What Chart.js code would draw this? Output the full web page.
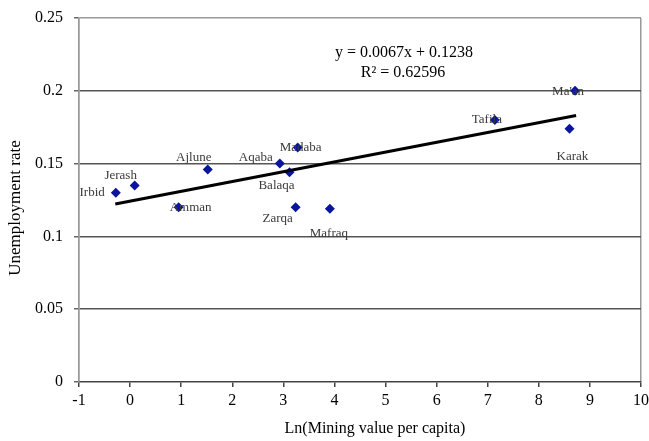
<!DOCTYPE html>
<html>
<head>
<meta charset="utf-8">
<script src="https://cdn.jsdelivr.net/npm/chart.js@4/dist/chart.umd.min.js"></script>
<style>
  html, body { margin: 0; padding: 0; background: #fff; }
  #wrap { width: 649px; height: 441px; }
</style>
</head>
<body>
<div id="wrap"><canvas id="scatterChart"></canvas></div>
<script>
// governorates and values
const names = ['Irbid', 'Jerash', 'Amman', 'Ajlune', 'Aqaba', 'Madaba', 'Balaqa', 'Zarqa', 'Mafraq', 'Tafila', "Ma'an", 'Karak'];
const lnMining = [-0.28, 0.09, 0.95, 1.52, 2.93, 3.28, 3.12, 3.24, 3.91, 7.14, 8.71, 8.60];
const unemployment = [0.130, 0.135, 0.120, 0.146, 0.150, 0.161, 0.144, 0.120, 0.119, 0.180, 0.200, 0.174];

// trend line end points
const trendX = [-0.29, 8.73];
const trendY = [0.1223, 0.183];

const xTicks = [-1, 0, 1, 2, 3, 4, 5, 6, 7, 8, 9, 10];
const yTicks = [0, 0.05, 0.1, 0.15, 0.2, 0.25];
const equation = ['y = 0.0067x + 0.1238', 'R\u00b2 = 0.62596'];
const xTitle = 'Ln(Mining value per capita)';
const yTitle = 'Unemployment rate';

// where each name sits next to its point (pixels)
const labelPos = {
    'Irbid': [-11, 0, 'right'],
    'Jerash': [-14, -10, 'center'],
    'Amman': [12, 0, 'center'],
    'Ajlune': [-14, -12, 'center'],
    'Aqaba': [-7, -6, 'right'],
    'Madaba': [3, 0, 'center'],
    'Balaqa': [-13, 13, 'center'],
    'Zarqa': [-18, 11, 'center'],
    'Mafraq': [-1, 25, 'center'],
    'Tafila': [-8, 0, 'center'],
    "Ma'an": [-7, 1, 'center'],
    'Karak': [3, 28, 'center']
};

const serif = "'Liberation Serif', 'DejaVu Serif', serif";

const pointLabels = {
    id: 'pointLabels',
    afterDatasetsDraw(chart) {
        const ctx = chart.ctx;
        const xs = chart.scales.x, ys = chart.scales.y;
        ctx.save();
        ctx.font = '13px ' + serif;
        ctx.fillStyle = '#3a3a3a';
        ctx.textBaseline = 'middle';
        names.forEach((n, i) => {
            const p = labelPos[n];
            ctx.textAlign = p[2];
            ctx.fillText(n, xs.getPixelForValue(lnMining[i]) + p[0], ys.getPixelForValue(unemployment[i]) + p[1]);
        });
        ctx.font = '16px ' + serif;
        ctx.fillStyle = '#000';
        ctx.textAlign = 'center';
        ctx.fillText(equation[0], 404, 53);
        ctx.fillText(equation[1], 403, 73);

        // axis titles
        ctx.fillText(xTitle, 375, 429);
        ctx.translate(16, 208);
        ctx.rotate(-Math.PI / 2);
        ctx.font = '17px ' + serif;
        ctx.fillText(yTitle, 0, 0);
        ctx.restore();
    }
};

const config = {
    type: 'scatter',
    data: {
        datasets: [{
            data: lnMining.map((x, i) => ({ x: x, y: unemployment[i] })),
            pointStyle: 'rectRot',
            pointRadius: 5,
            backgroundColor: '#0a149c',
            borderColor: '#0a149c',
            borderWidth: 0,
            order: 1
        }, {
            type: 'line',
            data: trendX.map((x, i) => ({ x: x, y: trendY[i] })),
            borderColor: '#000',
            borderWidth: 3,
            pointRadius: 0,
            fill: false,
            order: 0
        }]
    },
    options: {
        responsive: true,
        maintainAspectRatio: false,
        animation: false,
        layout: { padding: { left: 0, top: 18, right: 8, bottom: 0 } },
        plugins: {
            legend: { display: false },
            tooltip: { enabled: false }
        },
        scales: {
            x: {
                type: 'linear',
                min: -1,
                max: 10,
                afterFit: s => { s.height = 59; s.paddingLeft = 0; s.paddingRight = 0; },
                afterBuildTicks: s => { s.ticks = xTicks.map(v => ({ value: v })); },
                grid: {
                    color: c => (c.index === 0 || c.index === xTicks.length - 1) ? '#999' : 'rgba(0,0,0,0)',
                    lineWidth: 1.5,
                    tickColor: '#444',
                    tickLength: 5
                },
                border: { color: '#444', width: 1.5 },
                ticks: {
                    color: '#000',
                    font: { family: serif, size: 16 },
                    padding: 4,
                    callback: v => v
                }
            },
            y: {
                min: 0,
                max: 0.25,
                afterFit: s => { s.width = 79; s.paddingTop = 0; s.paddingBottom = 0; },
                afterBuildTicks: s => { s.ticks = yTicks.map(v => ({ value: v })); },
                grid: {
                    color: c => c.index === yTicks.length - 1 ? '#999' : (c.index === 0 ? 'rgba(0,0,0,0)' : '#555'),
                    lineWidth: 1.5,
                    tickColor: '#666',
                    tickLength: 5
                },
                border: { color: '#999', width: 1.5 },
                ticks: {
                    color: '#000',
                    font: { family: serif, size: 16 },
                    padding: 11,
                    callback: v => v
                }
            }
        }
    },
    plugins: [pointLabels]
};

const scatterChart = new Chart(document.getElementById('scatterChart'), config);
</script>
</body>
</html>
